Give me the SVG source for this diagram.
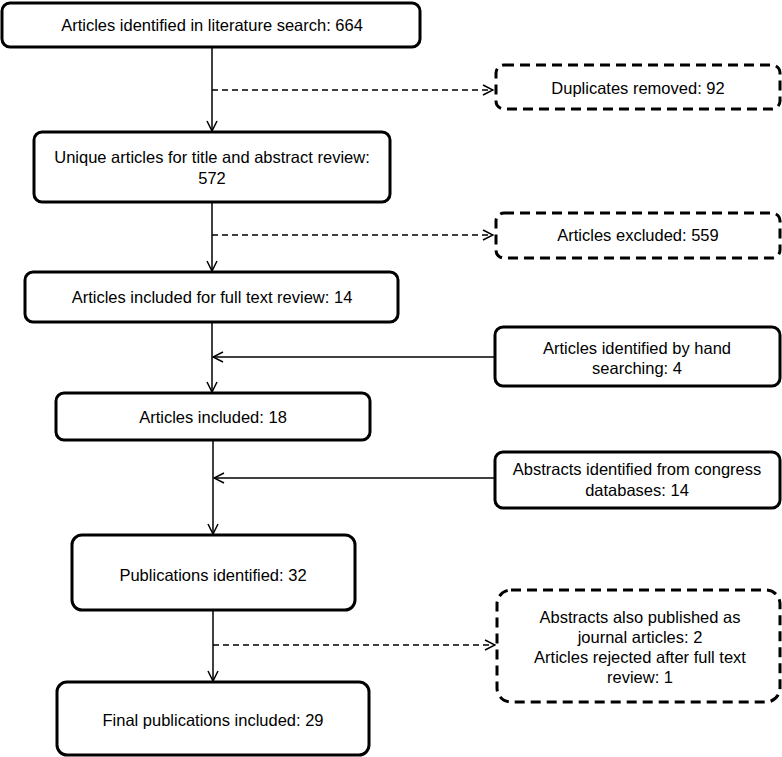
<svg xmlns="http://www.w3.org/2000/svg" width="782" height="757" viewBox="0 0 782 757">
<defs>
<style>
.box{fill:#fff;stroke:#000;stroke-width:3}
.dbox{fill:#fff;stroke:#000;stroke-width:3;stroke-dasharray:10 6}
.t{font-family:"Liberation Sans",Arial,sans-serif;font-size:16.5px;fill:#000;text-anchor:middle}
.c{fill:none;stroke:#000;stroke-width:1.5}
.d{fill:none;stroke:#000;stroke-width:1.5;stroke-dasharray:6 4}
</style>
<marker id="ah" viewBox="0 0 12 12" refX="11" refY="6" markerWidth="12" markerHeight="12" markerUnits="userSpaceOnUse" orient="auto">
<path d="M1,1 L11,6 L1,11" fill="none" stroke="#000" stroke-width="1.5"/>
</marker>
</defs>
<rect width="782" height="757" fill="#fff"/>
<g id="connectors">
<line class="c" x1="212" y1="47" x2="212" y2="131" marker-end="url(#ah)"/>
<line class="d" x1="212" y1="90" x2="493" y2="90" marker-end="url(#ah)"/>
<line class="c" x1="212" y1="202" x2="212" y2="271" marker-end="url(#ah)"/>
<line class="d" x1="212" y1="235" x2="493" y2="235" marker-end="url(#ah)"/>
<line class="c" x1="212" y1="322" x2="212" y2="392" marker-end="url(#ah)"/>
<line class="c" x1="494" y1="357" x2="213" y2="357" marker-end="url(#ah)"/>
<line class="c" x1="213" y1="440" x2="213" y2="534" marker-end="url(#ah)"/>
<line class="c" x1="494" y1="478" x2="214" y2="478" marker-end="url(#ah)"/>
<line class="c" x1="213" y1="610" x2="213" y2="681" marker-end="url(#ah)"/>
<line class="d" x1="213" y1="645" x2="495" y2="645" marker-end="url(#ah)"/>
</g>
<g id="n1"><rect class="box" x="2" y="3" width="418" height="44" rx="8"/><text class="t" x="212" y="31">Articles identified in literature search: 664</text></g>
<g id="n2"><rect class="dbox" x="496" y="65" width="284" height="44" rx="8"/><text class="t" x="638" y="94">Duplicates removed: 92</text></g>
<g id="n3"><rect class="box" x="34" y="132" width="356" height="70" rx="8"/><text class="t" x="212" y="163">Unique articles for title and abstract review:</text><text class="t" x="212" y="184">572</text></g>
<g id="n4"><rect class="dbox" x="496" y="213" width="284" height="45" rx="8"/><text class="t" x="638" y="241">Articles excluded: 559</text></g>
<g id="n5"><rect class="box" x="25" y="272" width="373" height="50" rx="8"/><text class="t" x="212" y="303">Articles included for full text review: 14</text></g>
<g id="n6"><rect class="box" x="495" y="327" width="285" height="59" rx="8"/><text class="t" x="637" y="354">Articles identified by hand</text><text class="t" x="637" y="374">searching: 4</text></g>
<g id="n7"><rect class="box" x="56" y="393" width="314" height="47" rx="8"/><text class="t" x="213" y="423">Articles included: 18</text></g>
<g id="n8"><rect class="box" x="495" y="452" width="285" height="56" rx="8"/><text class="t" x="637" y="475">Abstracts identified from congress</text><text class="t" x="637" y="496">databases: 14</text></g>
<g id="n9"><rect class="box" x="72" y="535" width="283" height="75" rx="10"/><text class="t" x="213" y="581">Publications identified: 32</text></g>
<g id="n10"><rect class="dbox" x="497" y="590" width="283" height="112" rx="14"/><text class="t" x="640" y="623">Abstracts also published as</text><text class="t" x="640" y="643">journal articles: 2</text><text class="t" x="640" y="663">Articles rejected after full text</text><text class="t" x="640" y="683">review: 1</text></g>
<g id="n11"><rect class="box" x="57" y="682" width="312" height="73" rx="10"/><text class="t" x="213" y="726">Final publications included: 29</text></g>
</svg>
